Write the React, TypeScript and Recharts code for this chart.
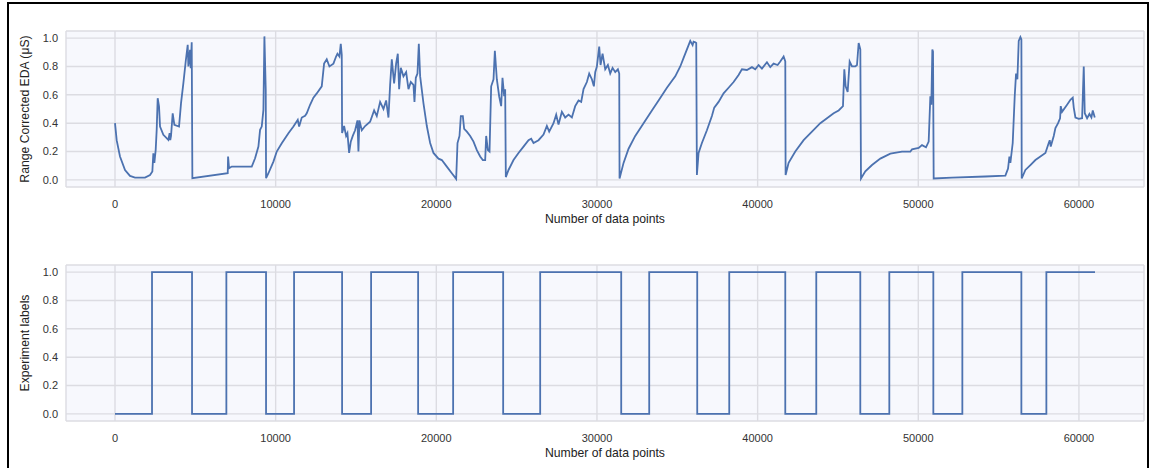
import React from 'react';
import { LineChart, Line, XAxis, YAxis, CartesianGrid } from 'recharts';

// sample index of each traced point of the EDA curve
const edaIndex = [
  0, 104, 311, 623, 934, 1245, 1868, 2180, 2325, 2387, 2450, 2533, 2595, 2657, 2740, 2803,
  3010, 3321, 3400, 3440, 3487, 3591, 3695, 3986, 4110, 4256, 4401, 4526, 4567, 4671, 4712, 4775,
  4816, 7017, 7038, 7100, 7266, 8512, 8719, 8927, 9030, 9134, 9238, 9300, 9383, 9404, 9550, 9861,
  10068, 10380, 10795, 11106, 11376, 11460, 11626, 11833, 11935, 12143, 12350, 12558, 12869, 13015,
  13181, 13347, 13596, 13762, 13845, 13970, 14053, 14115, 14136, 14260, 14385, 14468, 14572, 14676,
  14800, 14945, 15091, 15153, 15215, 15361, 15568, 15880, 16129, 16295, 16502, 16710, 16876, 17021,
  17125, 17229, 17374, 17499, 17603, 17686, 17790, 17956, 18122, 18267, 18412, 18578, 18641, 18724,
  18828, 18911, 18994, 19201, 19409, 19616, 19824, 20135, 20343, 20654, 20966, 21236, 21319, 21443,
  21526, 21651, 21734, 21900, 22108, 22315, 22523, 22730, 22896, 23042, 23104, 23208, 23312, 23415,
  23561, 23644, 23767, 23912, 24037, 24120, 24224, 24286, 24327, 24493, 24805, 25116, 25428, 25739,
  25905, 26050, 26362, 26673, 26881, 27026, 27296, 27462, 27607, 27815, 28023, 28230, 28438, 28645,
  28853, 29019, 29164, 29372, 29517, 29683, 29808, 29891, 29995, 30140, 30223, 30348, 30514, 30680,
  30825, 30971, 31137, 31303, 31386, 31406, 31655, 31967, 32382, 32901, 33420, 33835, 34354, 34873,
  35185, 35392, 35600, 35807, 35953, 36013, 36119, 36179, 36220, 36324, 36532, 36843, 37154, 37300,
  37570, 37881, 38192, 38504, 38815, 39023, 39334, 39646, 39853, 40061, 40268, 40580, 40787, 40995,
  41244, 41410, 41618, 41722, 41742, 41929, 42344, 42863, 43382, 43901, 44317, 44732, 45043, 45313,
  45396, 45479, 45604, 45728, 45874, 46081, 46185, 46289, 46393, 46434, 46704, 47120, 47638, 48261,
  48986, 49505, 49609, 50024, 50232, 50481, 50647, 50751, 50813, 50875, 50917, 50958, 52100, 54176,
  55422, 55588, 55671, 55733, 55878, 56003, 56086, 56169, 56252, 56356, 56418, 56439, 56667, 56979,
  57290, 57601, 57913, 58120, 58183, 58245, 58432, 58536, 58702, 58826, 58868, 58951, 59262, 59470,
  59615, 59677, 59781, 59989, 60197, 60300, 60363, 60508, 60653, 60778, 60861, 60986,
];

const edaValue = [
  0.40, 0.28, 0.165, 0.07, 0.028, 0.016, 0.016, 0.035, 0.059, 0.188, 0.12, 0.212, 0.353, 0.576, 0.518, 0.376,
  0.318, 0.282, 0.33, 0.28, 0.31, 0.47, 0.388, 0.376, 0.541, 0.682, 0.835, 0.953, 0.80, 0.918, 0.788, 0.971,
  0.012, 0.047, 0.165, 0.082, 0.094, 0.094, 0.153, 0.235, 0.353, 0.376, 0.494, 1.012, 0.635, 0.012, 0.047, 0.129,
  0.20, 0.259, 0.329, 0.376, 0.424, 0.376, 0.44, 0.452, 0.47, 0.53, 0.58, 0.61, 0.66, 0.82,
  0.85, 0.80, 0.82, 0.87, 0.89, 0.87, 0.96, 0.88, 0.33, 0.38, 0.31, 0.33, 0.19, 0.27,
  0.31, 0.35, 0.42, 0.20, 0.42, 0.35, 0.38, 0.41, 0.49, 0.45, 0.55, 0.50, 0.56, 0.44,
  0.67, 0.85, 0.68, 0.82, 0.89, 0.64, 0.79, 0.73, 0.76, 0.64, 0.69, 0.67, 0.55, 0.72,
  0.75, 0.96, 0.73, 0.54, 0.38, 0.26, 0.19, 0.15, 0.14, 0.094, 0.047, 0.007, 0.26, 0.31,
  0.45, 0.45, 0.36, 0.34, 0.31, 0.27, 0.21, 0.165, 0.14, 0.14, 0.31, 0.21, 0.20, 0.66,
  0.71, 0.91, 0.71, 0.59, 0.52, 0.72, 0.59, 0.64, 0.02, 0.07, 0.14, 0.19, 0.235, 0.28,
  0.29, 0.26, 0.28, 0.32, 0.38, 0.34, 0.40, 0.46, 0.39, 0.48, 0.44, 0.46, 0.44, 0.52,
  0.56, 0.55, 0.64, 0.69, 0.75, 0.71, 0.66, 0.76, 0.80, 0.94, 0.81, 0.89, 0.78, 0.81,
  0.75, 0.79, 0.76, 0.78, 0.75, 0.01, 0.12, 0.22, 0.31, 0.40, 0.49, 0.56, 0.65, 0.73,
  0.80, 0.86, 0.92, 0.98, 0.95, 0.975, 0.97, 0.965, 0.035, 0.19, 0.26, 0.35, 0.45, 0.51,
  0.55, 0.61, 0.65, 0.69, 0.74, 0.78, 0.775, 0.795, 0.78, 0.81, 0.785, 0.83, 0.795, 0.82,
  0.81, 0.835, 0.87, 0.835, 0.035, 0.12, 0.20, 0.28, 0.34, 0.40, 0.435, 0.47, 0.49, 0.52,
  0.78, 0.66, 0.62, 0.835, 0.80, 0.80, 0.81, 0.965, 0.92, 0.01, 0.06, 0.105, 0.15, 0.185,
  0.20, 0.20, 0.215, 0.225, 0.245, 0.23, 0.27, 0.59, 0.53, 0.92, 0.905, 0.01, 0.016, 0.024,
  0.03, 0.08, 0.165, 0.12, 0.26, 0.59, 0.75, 0.71, 0.98, 1.007, 0.99, 0.01, 0.07, 0.105,
  0.14, 0.165, 0.19, 0.26, 0.28, 0.235, 0.31, 0.365, 0.40, 0.435, 0.52, 0.48, 0.53, 0.565,
  0.58, 0.51, 0.44, 0.43, 0.435, 0.80, 0.47, 0.435, 0.465, 0.44, 0.49, 0.44,
];

// experiment label: index where each segment starts, and its value
const labelIndex = [
  0, 2304, 4795, 6932, 9402, 11146, 14135, 15941, 18868, 21047, 24161, 26465, 31509,
  33252, 36241, 38234, 41721, 43651, 46391, 48197, 50937, 52743, 56417, 57973, 61000,
];
const labelValue = [
  0, 1, 0, 1, 0, 1, 0, 1, 0, 1, 0, 1, 0,
  1, 0, 1, 0, 1, 0, 1, 0, 1, 0, 1, 1,
];

const xTicks = [0, 10000, 20000, 30000, 40000, 50000, 60000];
const yTicks = [0, 0.2, 0.4, 0.6, 0.8, 1.0];

const edaData = edaIndex.map((x, i) => ({ x, v: edaValue[i] }));
const labelData = labelIndex.map((x, i) => ({ x, v: labelValue[i] }));

const FONT = '"Liberation Sans", Arial, sans-serif';
const BLUE = '#4c72b0';
const GRID = '#dcdce2';
const BG = '#f7f8fd';

const tickStyle = { fontSize: 11, fill: '#333', fontFamily: FONT };
const labelStyle = { fontSize: 12.2, fill: '#222', fontFamily: FONT };

const Panel = ({ data, yLabel, step }: { data: any[]; yLabel: string; step?: boolean }) => (
  <LineChart
    width={1154}
    height={232}
    data={data}
    margin={{ top: 31, right: 10, left: 10, bottom: 5 }}
  >
    <CartesianGrid stroke={GRID} strokeWidth={1.4} fill={BG} fillOpacity={1} />
    <XAxis
      dataKey="x"
      type="number"
      domain={[-3050, 64050]}
      ticks={xTicks}
      tickLine={false}
      axisLine={false}
      tickSize={0}
      tickMargin={13}
      height={40}
      tick={tickStyle}
      label={{
        value: 'Number of data points',
        position: 'insideBottom',
        offset: 4,
        style: labelStyle,
      }}
    />
    <YAxis
      type="number"
      domain={[-0.05, 1.05]}
      ticks={yTicks}
      tickFormatter={(v: number) => v.toFixed(1)}
      tickLine={false}
      axisLine={false}
      tickSize={0}
      tickMargin={8}
      width={56}
      tick={tickStyle}
      label={{
        value: yLabel,
        angle: -90,
        position: 'insideLeft',
        offset: 15,
        style: { ...labelStyle, textAnchor: 'middle' },
      }}
    />
    <Line
      type={step ? 'stepAfter' : 'linear'}
      dataKey="v"
      stroke={BLUE}
      strokeWidth={1.8}
      dot={false}
      isAnimationActive={false}
    />
  </LineChart>
);

export default function App() {
  return (
    <div style={{ position: 'absolute', left: 0, top: 0, width: 1154, height: 468, background: '#fff', overflow: 'hidden' }}>
      <div
        style={{
          position: 'absolute',
          left: 7,
          top: 2,
          width: 1142,
          height: 490,
          border: '2.5px solid #000',
          boxSizing: 'border-box',
        }}
      />
      <div style={{ position: 'absolute', left: 0, top: 0 }}>
        <Panel data={edaData} yLabel="Range Corrected EDA (μS)" />
      </div>
      <div style={{ position: 'absolute', left: 0, top: 234 }}>
        <Panel data={labelData} yLabel="Experiment labels" step />
      </div>
    </div>
  );
}
